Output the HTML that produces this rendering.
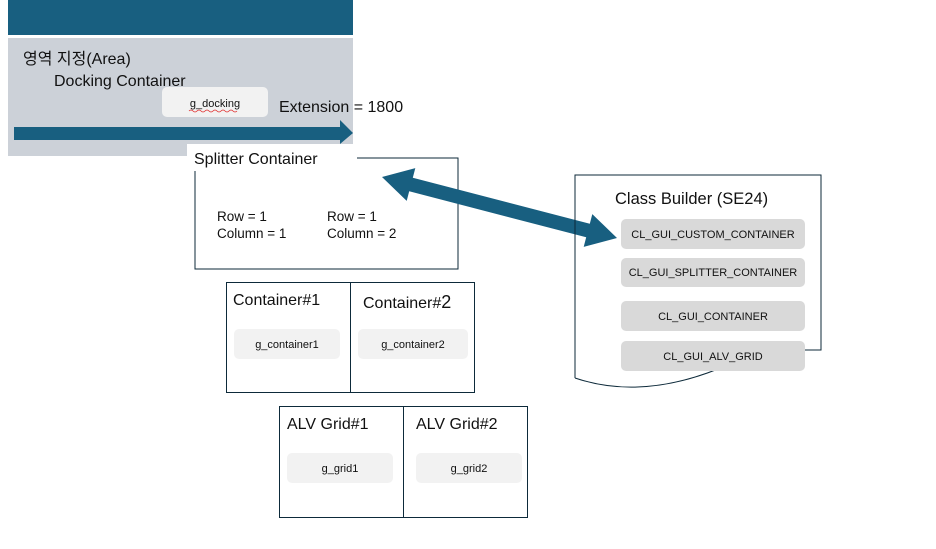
<!DOCTYPE html>
<html><head><meta charset="utf-8"><style>
html,body{margin:0;padding:0;background:#fff;}
svg{display:block;font-family:"Liberation Sans","Noto Sans CJK KR",sans-serif;}
</style></head><body>
<svg width="936" height="549" viewBox="0 0 936 549" xmlns="http://www.w3.org/2000/svg">
<rect x="8" y="0" width="345" height="35" fill="#185f80"/>
<rect x="8" y="38" width="345" height="118" fill="#ccd1d8"/>
<text x="23" y="64" font-size="16" fill="#111">영역 지정(Area)</text>
<text x="54" y="86" font-size="16" fill="#111">Docking Container</text>
<rect x="162" y="87" width="106" height="30" rx="5" fill="#f2f2f2"/>
<text x="215" y="107" font-size="11" fill="#111" text-anchor="middle">g_docking</text>
<path d="M189 111 q2 -2 4 0 t4 0 t4 0 t4 0 t4 0 t4 0 t4 0 t4 0 t4 0 t4 0 t4 0 t4 0" stroke="#e03030" stroke-width="0.8" fill="none"/>
<text x="279" y="112" font-size="16" fill="#111">Extension = 1800</text>
<polygon points="14,127 340,127 340,120 353,133 340,144 340,140 14,140" fill="#185f80"/>
<rect x="195" y="158" width="263" height="111" fill="none" stroke="#0d2a3a" stroke-width="1"/>
<rect x="187" y="144" width="170" height="27" fill="#fff"/>
<text x="194" y="164" font-size="16" fill="#111">Splitter Container</text>
<text x="217" y="221" font-size="13.5" fill="#111">Row = 1</text>
<text x="217" y="238" font-size="13.5" fill="#111">Column = 1</text>
<text x="327" y="221" font-size="13.5" fill="#111">Row = 1</text>
<text x="327" y="238" font-size="13.5" fill="#111">Column = 2</text>
<polygon points="382,177 406.7,200.9 409.2,191.3 586.2,237.3 583.7,246.9 617,238 592.3,214.1 589.8,223.7 412.8,177.7 415.3,168.1" fill="#185f80"/>
<path d="M575 378 L575 175 L821 175 L821 350 L805 350" fill="none" stroke="#0d2a3a" stroke-width="1"/>
<path d="M575 378 Q640 400 718 369" fill="none" stroke="#0d2a3a" stroke-width="1"/>
<text x="615" y="204" font-size="16.5" fill="#111">Class Builder (SE24)</text>
<rect x="621" y="219" width="184" height="30" rx="5" fill="#d9d9d9"/>
<text x="713" y="238" font-size="11" fill="#111" text-anchor="middle">CL_GUI_CUSTOM_CONTAINER</text>
<rect x="621" y="258" width="184" height="29" rx="5" fill="#d9d9d9"/>
<text x="713" y="276" font-size="11" fill="#111" text-anchor="middle">CL_GUI_SPLITTER_CONTAINER</text>
<rect x="621" y="301" width="184" height="30" rx="5" fill="#d9d9d9"/>
<text x="713" y="320" font-size="11" fill="#111" text-anchor="middle">CL_GUI_CONTAINER</text>
<rect x="621" y="341" width="184" height="30" rx="5" fill="#d9d9d9"/>
<text x="713" y="360" font-size="11" fill="#111" text-anchor="middle">CL_GUI_ALV_GRID</text>
<rect x="226.5" y="282.5" width="248" height="110" fill="none" stroke="#0d2a3a" stroke-width="1"/>
<line x1="350.5" y1="282" x2="350.5" y2="392" stroke="#0d2a3a"/>
<text x="233" y="305" font-size="16" fill="#111">Container#1</text>
<text x="363" y="308" font-size="16" fill="#111">Container#<tspan font-size="18">2</tspan></text>
<rect x="234" y="329" width="106" height="30" rx="5" fill="#f2f2f2"/>
<text x="287" y="348" font-size="11" fill="#111" text-anchor="middle">g_container1</text>
<rect x="358" y="329" width="110" height="30" rx="5" fill="#f2f2f2"/>
<text x="413" y="348" font-size="11" fill="#111" text-anchor="middle">g_container2</text>
<rect x="279.5" y="406.5" width="248" height="111" fill="none" stroke="#0d2a3a" stroke-width="1"/>
<line x1="403.5" y1="406" x2="403.5" y2="517" stroke="#0d2a3a"/>
<text x="287" y="429" font-size="16" fill="#111">ALV Grid#1</text>
<text x="416" y="429" font-size="16" fill="#111">ALV Grid#2</text>
<rect x="287" y="453" width="106" height="30" rx="5" fill="#f2f2f2"/>
<text x="340" y="472" font-size="11" fill="#111" text-anchor="middle">g_grid1</text>
<rect x="416" y="453" width="106" height="30" rx="5" fill="#f2f2f2"/>
<text x="469" y="472" font-size="11" fill="#111" text-anchor="middle">g_grid2</text>
</svg>
</body></html>
